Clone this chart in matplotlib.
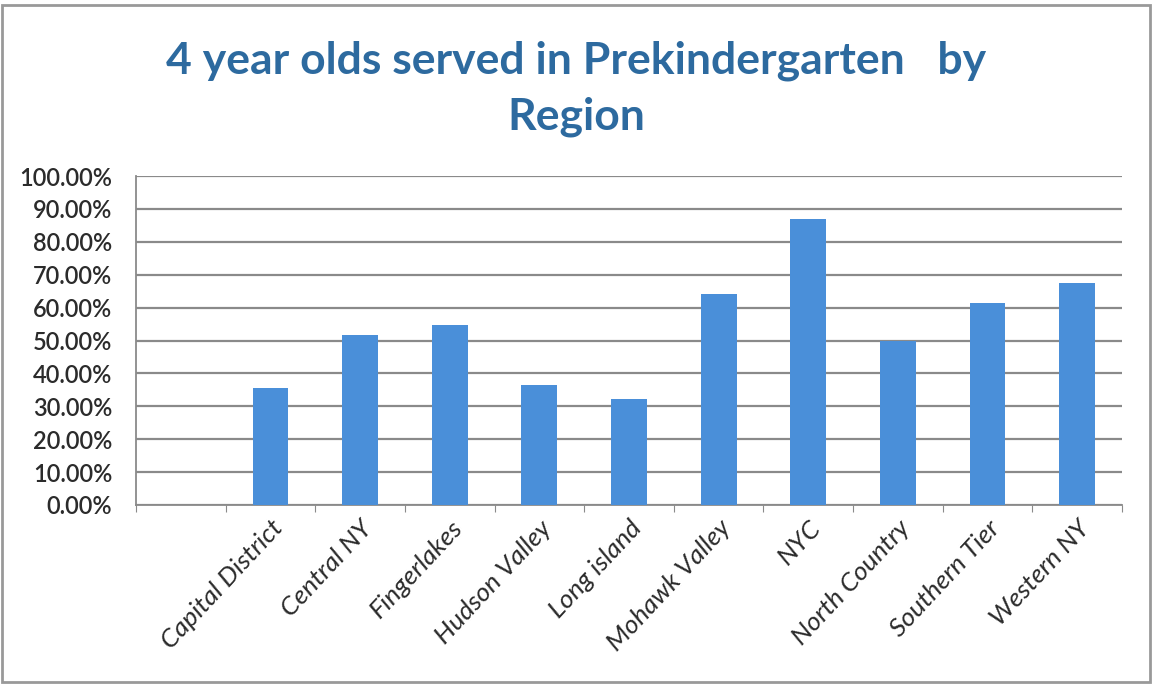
import matplotlib.pyplot as plt
from matplotlib.patches import Rectangle
from matplotlib.ticker import PercentFormatter

# Data (first category slot is empty in the original)
regions = ["", "Capital District", "Central NY", "Fingerlakes", "Hudson Valley",
           "Long island", "Mohawk Valley", "NYC", "North Country",
           "Southern Tier", "Western NY"]
served_pct = [0.0, 35.7, 51.7, 54.8, 36.4, 32.1, 64.2, 86.8, 49.8, 61.5, 67.6]

plt.rcParams['font.family'] = ['Lato', 'DejaVu Sans']

fig = plt.figure(figsize=(11.52, 6.84), dpi=100)
ax = fig.add_axes([136 / 1152, 1 - 505 / 684, (1122 - 136) / 1152, (505 - 176) / 684])

x = range(len(regions))
heights = [v if r else 0 for r, v in zip(regions, served_pct)]
bars = ax.bar(x, heights, width=0.4, color="#4a8fd9", zorder=3)

ax.set_xlim(-0.5, len(regions) - 0.5)
ax.set_ylim(0, 100)
ax.set_yticks(range(0, 101, 10))
ax.yaxis.set_major_formatter(PercentFormatter(decimals=2))
ax.grid(axis="y", color="#8a8a8a", linewidth=1.6, zorder=0)

ax.set_xticks([i - 0.5 for i in range(len(regions) + 1)], minor=False)
ax.set_xticklabels([])
ax.set_xticks(list(x), minor=True)
ax.set_xticklabels(regions, minor=True, rotation=47, ha="right",
                   rotation_mode="anchor", fontsize=19, fontstyle="italic",
                   color="#2b2b2b")
ax.tick_params(axis="x", which="minor", length=0, pad=8)
ax.tick_params(axis="x", which="major", length=5, color="#8a8a8a")
ax.tick_params(axis="y", length=0, labelsize=17, labelcolor="#2b2b2b", pad=17)
for lbl in ax.get_yticklabels():
    lbl.set_fontweight("semibold")

for side in ["top", "right"]:
    ax.spines[side].set_visible(False)
for side in ["left", "bottom"]:
    ax.spines[side].set_color("#8a8a8a")
    ax.spines[side].set_linewidth(1.3)

fig.text(0.5, 1 - 61 / 684, "4 year olds served in Prekindergarten   by",
         ha="center", va="center", fontsize=32, fontweight="bold", color="#2d6a9f")
fig.text(0.5, 1 - 117 / 684, "Region",
         ha="center", va="center", fontsize=32, fontweight="bold", color="#2d6a9f")

# outer frame
fig.patches.append(Rectangle((0.002, 0.003), 0.996, 0.99, transform=fig.transFigure,
                             fill=False, edgecolor="#999999", linewidth=2))

fig.savefig("out.png", dpi=100)
